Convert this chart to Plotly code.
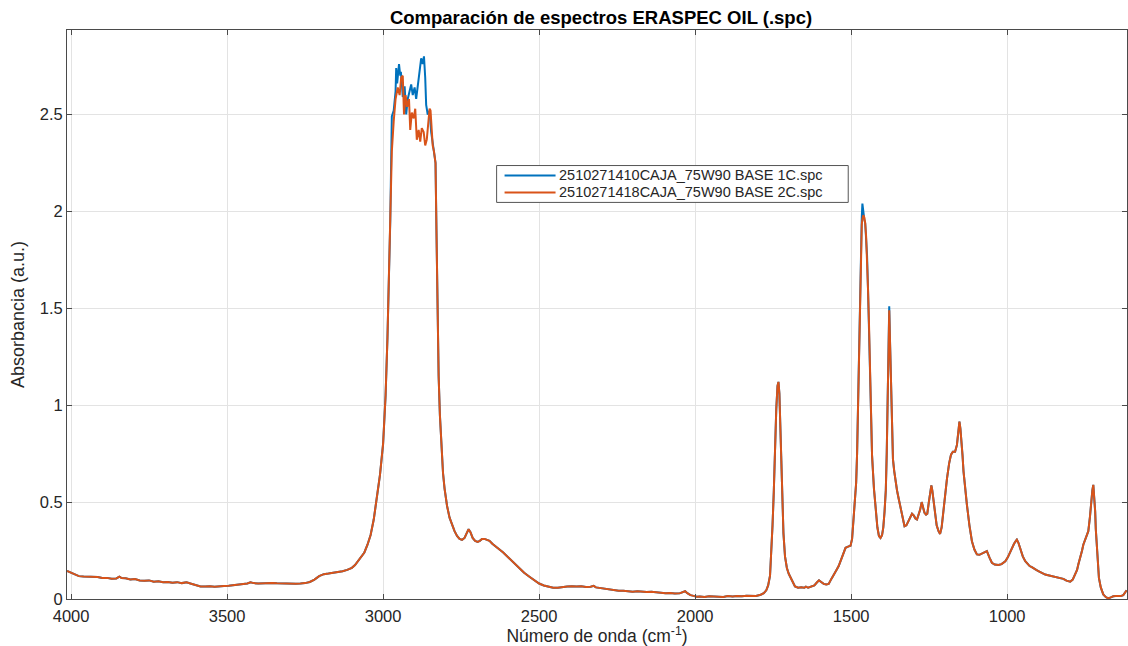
import plotly.graph_objects as go

# --- Spectral data: wavenumber (cm-1) and absorbance (a.u.) ---

# Shared baseline region, 4013 -> 2977 cm-1
wn_low = [4013, 4005, 3995, 3985, 3975, 3960, 3945, 3930, 3915, 3900, 3885, 3870,
          3855, 3845, 3838, 3825, 3810, 3795, 3780, 3765, 3750, 3735, 3720, 3705,
          3690, 3675, 3660, 3645, 3630, 3615, 3600, 3585, 3570, 3555, 3540, 3525,
          3510, 3495, 3480, 3465, 3450, 3435, 3425, 3415, 3400, 3385, 3370, 3355,
          3340, 3325, 3310, 3295, 3280, 3265, 3250, 3235, 3220, 3205, 3190, 3175,
          3160, 3145, 3130, 3115, 3100, 3090, 3080, 3070, 3060, 3050, 3040, 3030,
          3020, 3010, 3000, 2992, 2986, 2981, 2977]
abs_low = [0.145, 0.140, 0.132, 0.124, 0.118, 0.116, 0.115, 0.112, 0.113, 0.108, 0.109, 0.104,
           0.106, 0.115, 0.108, 0.107, 0.101, 0.103, 0.096, 0.094, 0.096, 0.089, 0.091, 0.086,
           0.088, 0.084, 0.087, 0.082, 0.086, 0.079, 0.070, 0.065, 0.064, 0.066, 0.063, 0.066,
           0.067, 0.068, 0.071, 0.072, 0.075, 0.080, 0.086, 0.082, 0.080, 0.082, 0.081, 0.083,
           0.081, 0.080, 0.079, 0.078, 0.079, 0.080, 0.082, 0.088, 0.100, 0.118, 0.128, 0.131,
           0.134, 0.139, 0.143, 0.150, 0.161, 0.175, 0.195, 0.215, 0.240, 0.280, 0.330, 0.410,
           0.520, 0.640, 0.800, 1.050, 1.350, 1.650, 1.950]

# C-H stretching band top, sample 1C
wn_ch_1 = [2972, 2966, 2960, 2958, 2955, 2953, 2949, 2945, 2943, 2939, 2937, 2931,
           2926, 2921, 2915, 2910, 2905, 2899, 2894, 2889, 2883, 2878, 2873, 2869,
           2865, 2862, 2857, 2851, 2846, 2841, 2836, 2832]
abs_ch_1 = [2.49, 2.52, 2.62, 2.74, 2.66, 2.70, 2.76, 2.70, 2.72, 2.64, 2.59, 2.645,
            2.50, 2.58, 2.62, 2.655, 2.60, 2.64, 2.58, 2.64, 2.71, 2.79, 2.76, 2.80,
            2.69, 2.55, 2.50, 2.52, 2.41, 2.36, 2.30, 2.25]

# C-H stretching band top, sample 2C
wn_ch_2 = [2972, 2966, 2960, 2953, 2947, 2942, 2937, 2933, 2928, 2923, 2917, 2913,
           2908, 2902, 2897, 2892, 2886, 2881, 2876, 2870, 2865, 2860, 2855, 2851,
           2848, 2845, 2841, 2837, 2832]
abs_ch_2 = [2.31, 2.465, 2.58, 2.64, 2.60, 2.69, 2.70, 2.50, 2.60, 2.54, 2.58, 2.42,
            2.51, 2.48, 2.53, 2.37, 2.42, 2.36, 2.43, 2.41, 2.34, 2.37, 2.465, 2.53,
            2.52, 2.43, 2.34, 2.31, 2.25]

# Shared region 2829 -> 1468 cm-1
wn_mid = [2829, 2826, 2822, 2818, 2813, 2808, 2803, 2795, 2787, 2779, 2771, 2763,
          2755, 2747, 2739, 2732, 2726, 2720, 2713, 2705, 2697, 2690, 2683, 2675,
          2667, 2659, 2650, 2640, 2627, 2615, 2605, 2595, 2580, 2563, 2548, 2531,
          2515, 2500, 2485, 2470, 2455, 2440, 2425, 2410, 2395, 2380, 2365, 2350,
          2335, 2325, 2318, 2305, 2290, 2275, 2260, 2245, 2230, 2215, 2200, 2185,
          2170, 2155, 2140, 2125, 2110, 2095, 2080, 2065, 2050, 2040, 2032, 2025,
          2015, 2005, 1995, 1985, 1970, 1955, 1940, 1925, 1910, 1895, 1880, 1865,
          1850, 1835, 1820, 1805, 1790, 1780, 1772, 1766, 1760, 1756, 1752, 1748,
          1744, 1740, 1736, 1733, 1730, 1727, 1724, 1721, 1717, 1712, 1706, 1700,
          1694, 1688, 1680, 1670, 1660, 1650, 1645, 1638, 1628, 1618, 1610, 1603,
          1596, 1588, 1580, 1572, 1563, 1555, 1547, 1540, 1530, 1518, 1510, 1502,
          1497, 1493, 1488, 1484, 1481, 1479, 1476, 1474, 1471, 1468]
abs_mid = [1.90, 1.45, 1.15, 0.95, 0.78, 0.65, 0.57, 0.48, 0.42, 0.38, 0.35, 0.325,
           0.31, 0.305, 0.315, 0.34, 0.36, 0.345, 0.315, 0.30, 0.295, 0.30, 0.31, 0.31,
           0.305, 0.30, 0.285, 0.27, 0.255, 0.24, 0.225, 0.21, 0.185, 0.16, 0.135, 0.115,
           0.095, 0.080, 0.070, 0.063, 0.058, 0.058, 0.062, 0.064, 0.066, 0.064, 0.066, 0.062,
           0.063, 0.068, 0.060, 0.057, 0.052, 0.048, 0.046, 0.042, 0.043, 0.040, 0.038, 0.040,
           0.037, 0.036, 0.038, 0.034, 0.032, 0.030, 0.031, 0.028, 0.029, 0.036, 0.040, 0.030,
           0.020, 0.016, 0.012, 0.013, 0.010, 0.014, 0.012, 0.013, 0.010, 0.015, 0.013, 0.016,
           0.014, 0.017, 0.015, 0.016, 0.022, 0.030, 0.045, 0.070, 0.120, 0.220, 0.380, 0.550,
           0.800, 0.980, 1.100, 1.120, 1.060, 0.880, 0.680, 0.500, 0.340, 0.220, 0.160, 0.130,
           0.110, 0.090, 0.065, 0.058, 0.060, 0.058, 0.064, 0.058, 0.062, 0.070, 0.085, 0.096,
           0.088, 0.078, 0.075, 0.078, 0.105, 0.125, 0.150, 0.170, 0.210, 0.264, 0.270, 0.275,
           0.310, 0.400, 0.500, 0.600, 0.750, 0.920, 1.200, 1.430, 1.650, 1.860]

# CH2 bending peak top
wn_p1_1 = [1466, 1464, 1461, 1458, 1455]
abs_p1_1 = [1.97, 2.04, 1.98, 1.96, 1.94]
wn_p1_2 = [1466, 1464, 1461, 1458, 1455]
abs_p1_2 = [1.93, 1.96, 1.98, 1.97, 1.94]

# Shared region 1452 -> 1381 cm-1
wn_b = [1452, 1449, 1446, 1443, 1438, 1433, 1427, 1422, 1416, 1411, 1406, 1401,
        1397, 1393, 1389, 1386, 1383, 1381]
abs_b = [1.87, 1.77, 1.60, 1.43, 1.09, 0.74, 0.57, 0.47, 0.37, 0.325, 0.315, 0.33,
         0.37, 0.45, 0.56, 0.75, 1.00, 1.25]

# CH3 bending peak top
wn_p2_1 = [1378]
abs_p2_1 = [1.51]
wn_p2_2 = [1378]
abs_p2_2 = [1.49]

# Shared fingerprint region 1375 -> 617 cm-1
wn_fp = [1375, 1372, 1369, 1366, 1362, 1358, 1353, 1348, 1343, 1338, 1333, 1329,
         1323, 1317, 1311, 1305, 1299, 1294, 1289, 1284, 1279, 1274, 1270, 1265,
         1260, 1256, 1251, 1246, 1243, 1240, 1236, 1231, 1226, 1220, 1215, 1210,
         1205, 1199, 1193, 1186, 1180, 1174, 1167, 1161, 1156, 1153, 1150, 1147,
         1143, 1140, 1135, 1129, 1121, 1113, 1105, 1097, 1089, 1081, 1073, 1065,
         1057, 1049, 1040, 1028, 1018, 1012, 1006, 998, 991, 985, 978, 972,
         969, 964, 958, 950, 942, 935, 928, 921, 914, 907, 900, 893,
         886, 878, 862, 846, 833, 820, 810, 798, 790, 782, 776, 772,
         766, 760, 756, 750, 745, 740, 735, 731, 727, 724, 721, 718,
         716, 713, 710, 706, 700, 692, 684, 676, 668, 660, 652, 644,
         636, 628, 622, 617]
abs_fp = [1.30, 1.05, 0.85, 0.72, 0.66, 0.61, 0.56, 0.52, 0.48, 0.44, 0.40, 0.375,
          0.38, 0.40, 0.425, 0.44, 0.43, 0.415, 0.41, 0.43, 0.46, 0.50, 0.48, 0.445,
          0.435, 0.44, 0.50, 0.56, 0.586, 0.56, 0.50, 0.435, 0.38, 0.35, 0.336, 0.37,
          0.45, 0.54, 0.62, 0.70, 0.745, 0.76, 0.76, 0.795, 0.86, 0.915, 0.88, 0.83,
          0.74, 0.66, 0.56, 0.486, 0.38, 0.298, 0.255, 0.23, 0.228, 0.233, 0.24, 0.247,
          0.215, 0.187, 0.178, 0.175, 0.18, 0.19, 0.195, 0.215, 0.24, 0.264, 0.285, 0.30,
          0.306, 0.29, 0.255, 0.22, 0.195, 0.18, 0.17, 0.164, 0.155, 0.15, 0.144, 0.138,
          0.133, 0.126, 0.12, 0.113, 0.108, 0.104, 0.095, 0.089, 0.10, 0.126, 0.15, 0.178,
          0.21, 0.25, 0.28, 0.31, 0.33, 0.35, 0.42, 0.50, 0.56, 0.589, 0.53, 0.452,
          0.36, 0.28, 0.19, 0.109, 0.06, 0.024, 0.010, 0.003, 0.008, 0.014, 0.015, 0.014,
          0.015, 0.020, 0.035, 0.045]

names = ["2510271410CAJA_75W90 BASE 1C.spc", "2510271418CAJA_75W90 BASE 2C.spc"]
colors = ["#0072BD", "#D95319"]

x_ticks = [4000, 3500, 3000, 2500, 2000, 1500, 1000]
y_ticks = [0, 0.5, 1, 1.5, 2, 2.5]
y_tick_text = ["0", "0.5", "1", "1.5", "2", "2.5"]

series = [
    (wn_low + wn_ch_1 + wn_mid + wn_p1_1 + wn_b + wn_p2_1 + wn_fp,
     abs_low + abs_ch_1 + abs_mid + abs_p1_1 + abs_b + abs_p2_1 + abs_fp),
    (wn_low + wn_ch_2 + wn_mid + wn_p1_2 + wn_b + wn_p2_2 + wn_fp,
     abs_low + abs_ch_2 + abs_mid + abs_p1_2 + abs_b + abs_p2_2 + abs_fp),
]

font_family = "Liberation Sans, Arial, sans-serif"
text_color = "#262626"

fig = go.Figure()
for (xs, ys), name, color in zip(series, names, colors):
    fig.add_trace(go.Scatter(x=xs, y=ys, mode="lines", name=name,
                             line=dict(color=color, width=2), showlegend=False))

# Boxed legend in the style of a MATLAB legend (tight rows, long line samples)
legend_box = dict(x0=0.4053, x1=0.7370, y0=0.6970, y1=0.7618)
legend_rows_y = [0.7443, 0.7145]
fig.add_shape(type="rect", xref="paper", yref="paper", **legend_box,
              line=dict(color="#555555", width=1), fillcolor="white", layer="above")
for name, color, row_y in zip(names, colors, legend_rows_y):
    fig.add_shape(type="line", xref="paper", yref="paper",
                  x0=0.4128, x1=0.4609, y0=row_y, y1=row_y,
                  line=dict(color=color, width=2), layer="above")
    fig.add_annotation(text=name, xref="paper", yref="paper",
                       x=0.4628, y=row_y, xanchor="left", yanchor="middle",
                       showarrow=False, borderpad=0,
                       font=dict(family=font_family, size=14.5, color=text_color))

axis_common = dict(
    showgrid=True, gridcolor="#e3e3e3", gridwidth=1,
    showline=True, linecolor="#4a4a4a", linewidth=1, mirror="ticks",
    ticks="inside", ticklen=5, tickcolor="#4a4a4a",
    zeroline=False,
    tickfont=dict(family=font_family, size=16.5, color=text_color),
)

fig.update_layout(
    width=1128, height=646,
    margin=dict(l=67, r=0, t=30, b=45),
    paper_bgcolor="white", plot_bgcolor="white",
    font=dict(family=font_family, color=text_color),
    showlegend=False,
    title=dict(text="<b>Comparación de espectros ERASPEC OIL (.spc)</b>",
               x=0.5328, xanchor="center", y=1 - 18 / 646, yanchor="middle",
               font=dict(size=18.5, color="#000000")),
    xaxis=dict(range=[4013, 616], tickvals=x_ticks, ticklabelstandoff=2,
               title=dict(text="Número de onda (cm<sup>-1</sup>)",
                          font=dict(size=17.5, color=text_color), standoff=9),
               **axis_common),
    yaxis=dict(range=[0, 2.936], tickvals=y_ticks, ticktext=y_tick_text,
               title=dict(text="Absorbancia (a.u.)",
                          font=dict(size=18, color=text_color), standoff=10),
               **axis_common),
)

fig.write_html("out.html")
